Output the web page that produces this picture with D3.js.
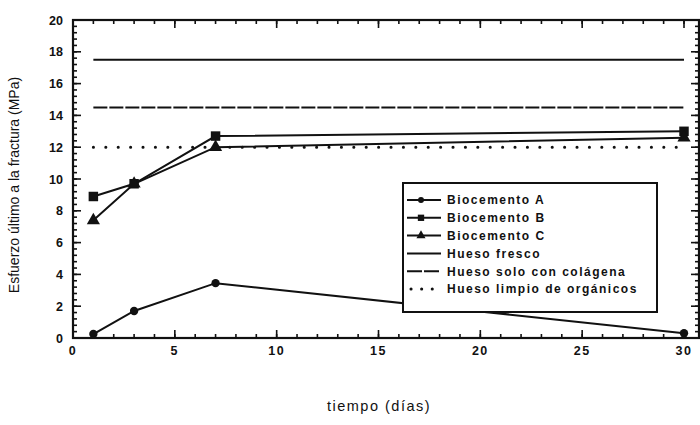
<!DOCTYPE html>
<html>
<head>
<meta charset="utf-8">
<script src="https://cdn.jsdelivr.net/npm/d3@7"></script>
<style>
  html, body { margin: 0; padding: 0; background: #fff; }
  svg { display: block; }
  text { font-family: "Liberation Sans", Arial, sans-serif; fill: #111; }
</style>
</head>
<body>
<svg id="chart" width="700" height="425"></svg>
<script>
// Ensayo de compresión: días de fraguado vs. esfuerzo último
const dias = [1, 3, 7, 30];
const biocementoA = [0.25, 1.7, 3.45, 0.3];
const biocementoB = [8.9, 9.7, 12.7, 13.0];
const biocementoC = [7.4, 9.7, 12.0, 12.6];
const huesoFresco = 17.5;
const huesoColagena = 14.5;
const huesoLimpio = 12.0;
const rangoReferencia = [1, 30];

const xTicks = [0, 5, 10, 15, 20, 25, 30];
const yTicks = [0, 2, 4, 6, 8, 10, 12, 14, 16, 18, 20];

const leyenda = [
  "Biocemento A",
  "Biocemento B",
  "Biocemento C",
  "Hueso fresco",
  "Hueso solo con colágena",
  "Hueso limpio de orgánicos"
];

const svg = d3.select("#chart");
const mLeft = 73, mRight = 699, mTop = 20, mBottom = 338;

const x = d3.scaleLinear().domain([0, 30]).range([mLeft, 684]);
const xMax = x.invert(mRight);
const y = d3.scaleLinear().domain([0, 20]).range([mBottom, mTop]);

// Marco y ejes
const g = svg.append("g");

// minor/major ticks pointing inward on all four sides
const yMinor = d3.range(0, 20.001, 0.4);
const xMinor = d3.range(0, xMax, 1);

function drawTicks(vals, isMajor, axis) {
  const len = isMajor ? 8 : 4;
  vals.forEach(v => {
    if (axis === "left") g.append("line").attr("x1", mLeft).attr("x2", mLeft + len).attr("y1", y(v)).attr("y2", y(v));
    if (axis === "right") g.append("line").attr("x1", mRight).attr("x2", mRight - len).attr("y1", y(v)).attr("y2", y(v));
    if (axis === "bottom") g.append("line").attr("x1", x(v)).attr("x2", x(v)).attr("y1", mBottom).attr("y2", mBottom - len);
    if (axis === "top") g.append("line").attr("x1", x(v)).attr("x2", x(v)).attr("y1", mTop).attr("y2", mTop + len);
  });
}
g.attr("stroke", "#111").attr("stroke-width", 1.6);
drawTicks(yMinor, false, "left");
drawTicks(yTicks, true, "left");
drawTicks(yMinor, false, "right");
drawTicks(yTicks, true, "right");
drawTicks(xMinor, false, "bottom");
drawTicks(xTicks, true, "bottom");
drawTicks(xMinor, false, "top");
drawTicks(xTicks, true, "top");

svg.append("rect")
  .attr("x", mLeft).attr("y", mTop)
  .attr("width", mRight - mLeft).attr("height", mBottom - mTop)
  .attr("fill", "none").attr("stroke", "#111").attr("stroke-width", 2.2);

// Etiquetas de los ejes
svg.append("g").selectAll("text").data(yTicks).join("text")
  .attr("x", mLeft - 10).attr("y", d => y(d)).attr("dy", "0.36em")
  .attr("text-anchor", "end")
  .attr("font-size", 12.5).attr("font-weight", "bold")
  .text(d => d);

svg.append("g").selectAll("text").data(xTicks).join("text")
  .attr("x", d => x(d)).attr("y", mBottom + 17)
  .attr("text-anchor", "middle")
  .attr("font-size", 12.5).attr("font-weight", "bold")
  .attr("letter-spacing", 1.5)
  .text(d => d);

svg.append("text")
  .attr("transform", `translate(19,${(mTop + mBottom) / 2 + 6}) rotate(-90)`)
  .attr("text-anchor", "middle")
  .attr("font-size", 14)
  .text("Esfuerzo último a la fractura (MPa)");

svg.append("text")
  .attr("x", 379).attr("y", 411)
  .attr("text-anchor", "middle")
  .attr("font-size", 14.5).attr("letter-spacing", 1.5)
  .text("tiempo (días)");

// Líneas de referencia (hueso)
const ref = svg.append("g").attr("fill", "none").attr("stroke", "#111").attr("stroke-width", 2);
const hLine = v => d3.line()([[x(rangoReferencia[0]), y(v)], [x(rangoReferencia[1]), y(v)]]);
ref.append("path").attr("d", hLine(huesoFresco));
ref.append("path").attr("d", hLine(huesoColagena)).attr("stroke-dasharray", "14 2");
ref.append("path").attr("d", hLine(huesoLimpio))
  .attr("stroke-width", 3).attr("stroke-linecap", "round").attr("stroke-dasharray", "0.1 12.3");

// Series de biocemento
const line = d3.line().x((d, i) => x(dias[i])).y(d => y(d));
const series = [
  { vals: biocementoA, sym: d3.symbolCircle, size: 55 },
  { vals: biocementoB, sym: d3.symbolSquare, size: 90 },
  { vals: biocementoC, sym: d3.symbolTriangle, size: 75 }
];
series.forEach(s => {
  svg.append("path").attr("d", line(s.vals))
    .attr("fill", "none").attr("stroke", "#111").attr("stroke-width", 2);
  svg.append("g").selectAll("path").data(s.vals).join("path")
    .attr("transform", (d, i) => `translate(${x(dias[i])},${y(d)})`)
    .attr("d", d3.symbol().type(s.sym).size(s.size))
    .attr("fill", "#111");
});

// Leyenda
const lg = svg.append("g").attr("transform", "translate(403,183)");
lg.append("rect").attr("width", 254).attr("height", 129)
  .attr("fill", "#fff").attr("stroke", "#111").attr("stroke-width", 2);
const estilos = [
  { sym: d3.symbolCircle, size: 28 },
  { sym: d3.symbolSquare, size: 40 },
  { sym: d3.symbolTriangle, size: 36 },
  { dash: null },
  { dash: "14 2" },
  { dash: "dots" }
];
leyenda.forEach((name, i) => {
  const yy = 17 + i * 17.8;
  const st = estilos[i];
  const l = lg.append("line").attr("x1", 4).attr("x2", 38).attr("y1", yy).attr("y2", yy)
    .attr("stroke", "#111").attr("stroke-width", 2);
  if (st.dash === "14 2") l.attr("stroke-dasharray", "15 2");
  if (st.dash === "dots") l.attr("stroke-width", 3).attr("stroke-linecap", "round").attr("stroke-dasharray", "0.1 10.5").attr("x1", 8);
  if (st.sym) {
    lg.append("path").attr("transform", `translate(18,${yy})`)
      .attr("d", d3.symbol().type(st.sym).size(st.size)).attr("fill", "#111");
  }
  lg.append("text").attr("x", 44).attr("y", yy).attr("dy", "0.36em")
    .attr("font-size", 12).attr("font-weight", "bold").attr("letter-spacing", 1.5)
    .text(name);
});
</script>
</body>
</html>
